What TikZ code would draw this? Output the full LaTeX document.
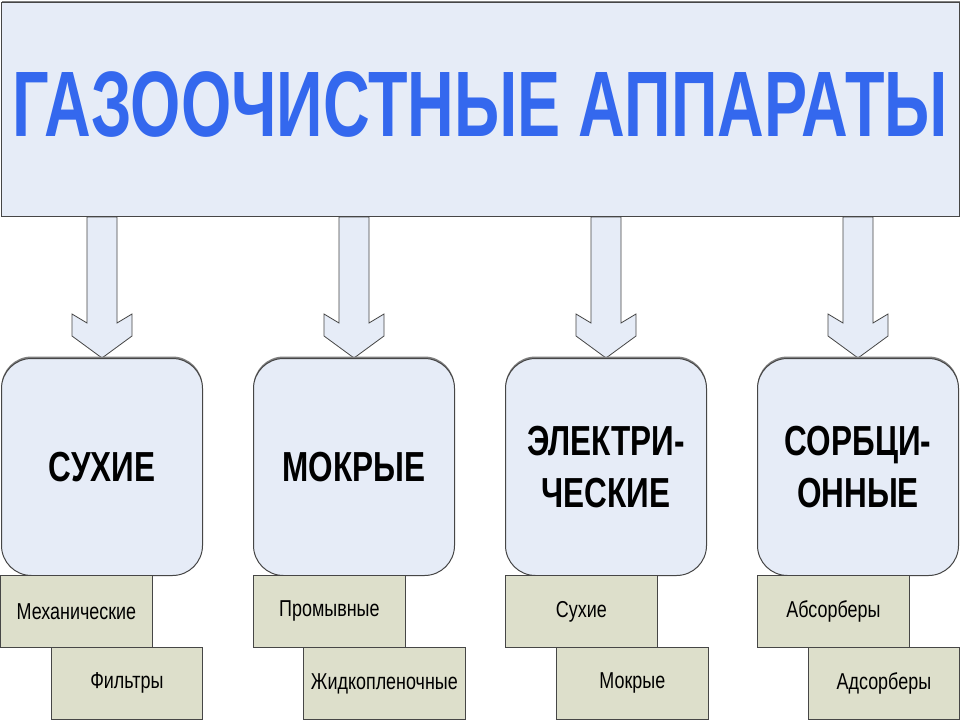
\documentclass[tikz,border=0pt]{standalone}
\usepackage{fontspec}
\setmainfont{Liberation Sans}
\newfontfamily\titlef[FakeStretch=0.695]{Liberation Sans}
\newfontfamily\bigf[FakeStretch=0.75]{Liberation Sans}
\newfontfamily\smallf[FakeStretch=0.78]{Liberation Sans}
\usetikzlibrary{calc,shadows}
\pgfdeclarelayer{bg}
\pgfsetlayers{bg,main}
\definecolor{paleblue}{RGB}{230,236,247}
\definecolor{titleblue}{RGB}{52,104,238}
\definecolor{olivebox}{RGB}{221,223,203}
\definecolor{edge}{RGB}{70,70,70}
\definecolor{shade}{RGB}{128,128,128}
\begin{document}
\begin{tikzpicture}[x=1pt,y=-1pt,
 topshadow/.style={drop shadow={shadow xshift=0pt,shadow yshift=2pt,fill=shade,opacity=1}},
 titlebox/.style={draw=edge,line width=1pt,fill=paleblue,anchor=north west,minimum width=958pt,minimum height=214pt,inner sep=0pt,topshadow},
 catbox/.style={draw=edge,line width=1pt,fill=paleblue,rounded corners=30pt,anchor=north west,minimum width=201pt,minimum height=217pt,inner sep=0pt,font=\bigf\bfseries\fontsize{42}{52}\selectfont,align=center,topshadow},
 subbox/.style={draw=edge,line width=0.8pt,fill=olivebox,anchor=north west,minimum height=72pt,inner sep=0pt,font=\smallf\fontsize{23}{27}\selectfont},
 blockarrow/.style={draw=edge,line width=0.8pt,fill=paleblue,line join=miter}]
\useasboundingbox (0,0) rectangle (960,720);
\begin{pgfonlayer}{bg}
\fill[white] (0,0) rectangle (960,720);
\end{pgfonlayer}
\node[titlebox] (title) at (1,2) {};
\node[font=\titlef\bfseries\fontsize{93}{100}\selectfont,text=titleblue,inner sep=0pt] (titletext) at (480,104) {ГАЗООЧИСТНЫЕ АППАРАТЫ};
\node[catbox] (c1) at (1,358) {СУХИЕ};
\node[catbox] (c2) at (253,358) {МОКРЫЕ};
\node[catbox] (c3) at (505,358) {ЭЛЕКТРИ-\\ЧЕСКИЕ};
\node[catbox] (c4) at (757,358) {СОРБЦИ-\\ОННЫЕ};
\node[subbox,minimum width=152pt] (s1a) at (0,575) {Механические};
\node[subbox,minimum width=151pt] (s1b) at (51,647) {Фильтры};
\node[subbox,minimum width=152pt] (s2a) at (253,575) {Промывные};
\node[subbox,minimum width=162pt] (s2b) at (303,647) {Жидкопленочные};
\node[subbox,minimum width=152pt] (s3a) at (505,575) {Сухие};
\node[subbox,minimum width=152pt] (s3b) at (556,647) {Мокрые};
\node[subbox,minimum width=152pt] (s4a) at (757,575) {Абсорберы};
\node[subbox,minimum width=151pt] (s4b) at (808,647) {Адсорберы};
\begin{pgfonlayer}{bg}
\foreach \c in {c1,c2,c3,c4}{
 \draw[blockarrow] (\c.north) -- ++(-30,-22) -- ++(0,-22) -- ++(15,9)
   -- ($(\c.north |- title.south)+(-15,0)$) -- ++(30,0)
   -- ($(\c.north)+(15,-35)$) -- ++(15,-9) -- ++(0,22) -- cycle;
}
\end{pgfonlayer}
\end{tikzpicture}
\end{document}
